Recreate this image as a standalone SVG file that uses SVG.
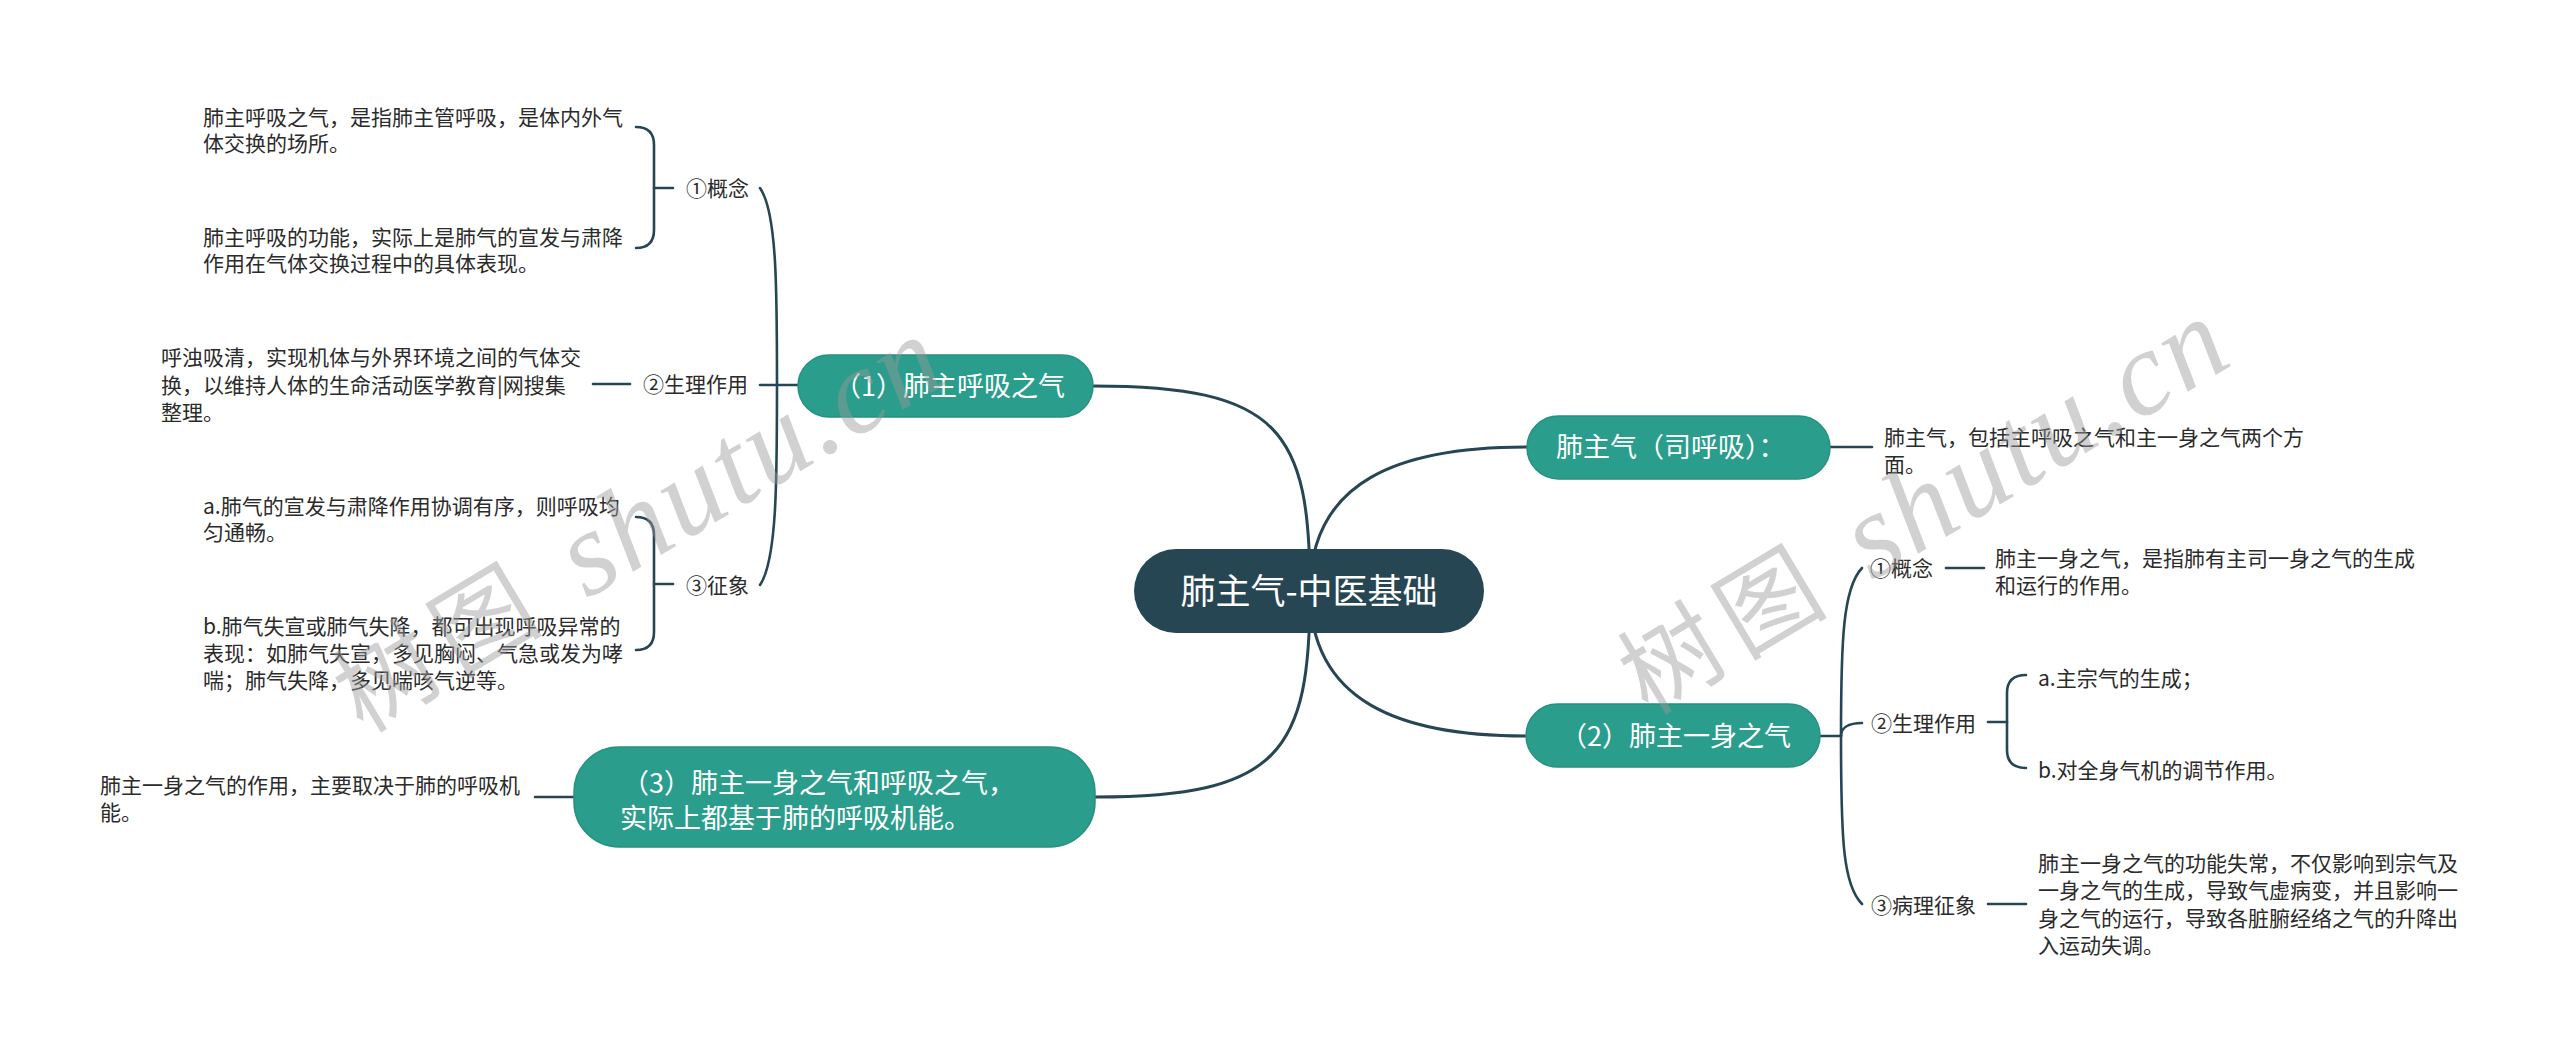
<svg xmlns="http://www.w3.org/2000/svg" width="2560" height="1058" viewBox="0 0 2560 1058">
<style>
  .bg { fill: #ffffff; }
  .link { fill: none; stroke: #264653; stroke-width: 3; stroke-linecap: round; }
  .sub { fill: none; stroke: #264653; stroke-width: 2.6; stroke-linecap: round; }
  .root { fill: #264653; }
  .main { fill: #2a9d8c; stroke: #27917f; stroke-width: 1.5; }
  .t { font-family: "Noto Sans CJK SC", "Noto Sans", sans-serif; fill: #2b2b2b; font-size: 21px; }
  .tm { font-family: "Noto Sans CJK SC", "Noto Sans", sans-serif; fill: #ffffff; font-size: 27px; }
  .tr { font-family: "Noto Sans CJK SC", "Noto Sans", sans-serif; fill: #ffffff; font-size: 35px; }
  .wm { font-family: "Liberation Serif", "Noto Sans CJK SC", serif; font-size: 100px; fill: #9a9a9a; fill-opacity: 0.45; letter-spacing: 12px; }
  .wl { font-style: italic; font-size: 120px; letter-spacing: 3px; }
</style>
<rect class="bg" x="0" y="0" width="2560" height="1058"/>

<g id="connectors">
  <!-- root to main topics -->
  <path class="link" d="M1310,591 C1310,430 1280,386 1093,386"/>
  <path class="link" d="M1310,591 C1310,480 1400,447 1527,447"/>
  <path class="link" d="M1310,591 C1310,702 1400,736 1526,736"/>
  <path class="link" d="M1310,591 C1310,752 1280,797 1095,797"/>
  <!-- (1) spine -->
  <path class="sub" d="M798,385 H760"/>
  <path class="sub" d="M777,385 C777,290 777,212 760,188"/>
  <path class="sub" d="M777,385 C777,480 777,560 760,585"/>
  <!-- (1) ① bracket -->
  <path class="sub" d="M673,188 H654"/>
  <path class="sub" d="M636,127 Q654,127 654,145 V230 Q654,248 636,248"/>
  <!-- (1) ② line -->
  <path class="sub" d="M630,384 H593"/>
  <!-- (1) ③ bracket -->
  <path class="sub" d="M673,584 H654"/>
  <path class="sub" d="M636,517 Q654,517 654,535 V632 Q654,650 636,650"/>
  <!-- (3) line -->
  <path class="sub" d="M574,797 H535"/>
  <!-- 肺主气 line -->
  <path class="sub" d="M1830,447 H1872"/>
  <!-- (2) spine -->
  <path class="sub" d="M1820,736 H1841"/>
  <path class="sub" d="M1841,736 C1841,640 1843,588 1862,568"/>
  <path class="sub" d="M1841,736 C1841,728 1848,723 1862,723"/>
  <path class="sub" d="M1841,736 C1841,840 1843,885 1862,904"/>
  <path class="sub" d="M1946,568 H1984"/>
  <path class="sub" d="M1988,722 H2007"/>
  <path class="sub" d="M2026,675 Q2007,675 2007,693 V750 Q2007,768 2026,768"/>
  <path class="sub" d="M1988,904 H2026"/>
</g>

<g id="root">
  <rect class="root" x="1134" y="549" width="350" height="84" rx="42"/>
  <text class="tr" x="1309" y="604" text-anchor="middle">肺主气-中医基础</text>
</g>

<g id="n1">
  <rect class="main" x="798" y="355" width="295" height="62" rx="31"/>
  <text class="tm" x="834" y="396">（1）肺主呼吸之气</text>
</g>
<g id="n1-1">
  <text class="t" x="686" y="196">①概念</text>
</g>
<g id="n1-1a">
  <text class="t" x="203" y="125">肺主呼吸之气，是指肺主管呼吸，是体内外气</text>
  <text class="t" x="203" y="151">体交换的场所。</text>
</g>
<g id="n1-1b">
  <text class="t" x="203" y="245">肺主呼吸的功能，实际上是肺气的宣发与肃降</text>
  <text class="t" x="203" y="271">作用在气体交换过程中的具体表现。</text>
</g>
<g id="n1-2">
  <text class="t" x="643" y="392">②生理作用</text>
</g>
<g id="n1-2a">
  <text class="t" x="161" y="365">呼浊吸清，实现机体与外界环境之间的气体交</text>
  <text class="t" x="161" y="393">换，以维持人体的生命活动医学教育|网搜集</text>
  <text class="t" x="161" y="420">整理。</text>
</g>
<g id="n1-3">
  <text class="t" x="686" y="593">③征象</text>
</g>
<g id="n1-3a">
  <text class="t" x="203" y="514">a.肺气的宣发与肃降作用协调有序，则呼吸均</text>
  <text class="t" x="203" y="540">匀通畅。</text>
</g>
<g id="n1-3b">
  <text class="t" x="203" y="634">b.肺气失宣或肺气失降，都可出现呼吸异常的</text>
  <text class="t" x="203" y="661">表现：如肺气失宣，多见胸闷、气急或发为哮</text>
  <text class="t" x="203" y="688">喘；肺气失降，多见喘咳气逆等。</text>
</g>

<g id="n3">
  <rect class="main" x="574" y="747" width="521" height="100" rx="45"/>
  <text class="tm" x="622" y="793">（3）肺主一身之气和呼吸之气，</text>
  <text class="tm" x="620" y="828">实际上都基于肺的呼吸机能。</text>
</g>
<g id="n3-a">
  <text class="t" x="100" y="793">肺主一身之气的作用，主要取决于肺的呼吸机</text>
  <text class="t" x="100" y="820">能。</text>
</g>

<g id="n0">
  <rect class="main" x="1527" y="416" width="303" height="63" rx="31.5"/>
  <text class="tm" x="1556" y="457">肺主气（司呼吸）：</text>
</g>
<g id="n0-a">
  <text class="t" x="1884" y="445">肺主气，包括主呼吸之气和主一身之气两个方</text>
  <text class="t" x="1884" y="472">面。</text>
</g>

<g id="n2">
  <rect class="main" x="1526" y="704" width="294" height="63" rx="31.5"/>
  <text class="tm" x="1560" y="746">（2）肺主一身之气</text>
</g>
<g id="n2-1">
  <text class="t" x="1870" y="576">①概念</text>
</g>
<g id="n2-1a">
  <text class="t" x="1995" y="566">肺主一身之气，是指肺有主司一身之气的生成</text>
  <text class="t" x="1995" y="593">和运行的作用。</text>
</g>
<g id="n2-2">
  <text class="t" x="1871" y="731">②生理作用</text>
</g>
<g id="n2-2a">
  <text class="t" x="2038" y="686">a.主宗气的生成；</text>
</g>
<g id="n2-2b">
  <text class="t" x="2038" y="778">b.对全身气机的调节作用。</text>
</g>
<g id="n2-3">
  <text class="t" x="1871" y="913">③病理征象</text>
</g>
<g id="n2-3a">
  <text class="t" x="2038" y="871">肺主一身之气的功能失常，不仅影响到宗气及</text>
  <text class="t" x="2038" y="898">一身之气的生成，导致气虚病变，并且影响一</text>
  <text class="t" x="2038" y="926">身之气的运行，导致各脏腑经络之气的升降出</text>
  <text class="t" x="2038" y="953">入运动失调。</text>
</g>

<g id="watermarks">
  <text class="wm" transform="translate(363,734) rotate(-31)">树图 <tspan class="wl">shutu.cn</tspan></text>
  <text class="wm" transform="translate(1648,716) rotate(-31)">树图 <tspan class="wl">shutu.cn</tspan></text>
</g>
</svg>
